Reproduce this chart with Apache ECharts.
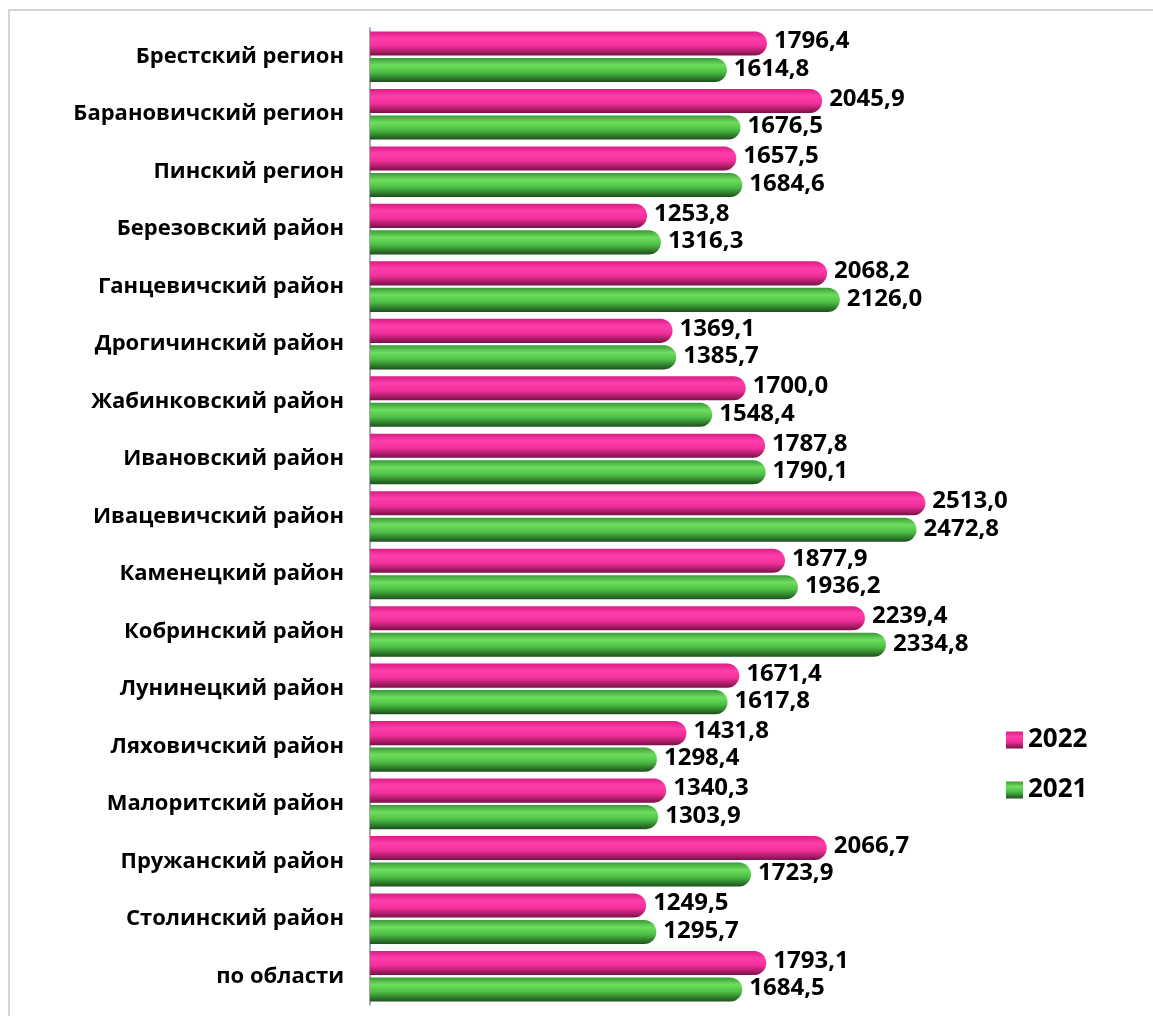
<!DOCTYPE html>
<html>
<head>
<meta charset="utf-8">
<script src="https://cdn.jsdelivr.net/npm/echarts@6/dist/echarts.min.js"></script>
<style>
  html, body { margin: 0; padding: 0; background: #fff; }
  #chart { width: 1153px; height: 1016px; }
</style>
</head>
<body>
<div id="chart"></div>
<script>
// категории сверху вниз
var categories = [
    "Брестский регион", "Барановичский регион", "Пинский регион",
    "Березовский район", "Ганцевичский район", "Дрогичинский район",
    "Жабинковский район", "Ивановский район", "Ивацевичский район",
    "Каменецкий район", "Кобринский район", "Лунинецкий район",
    "Ляховичский район", "Малоритский район", "Пружанский район",
    "Столинский район", "по области"
];
var values2022 = [1796.4, 2045.9, 1657.5, 1253.8, 2068.2, 1369.1, 1700.0, 1787.8,
    2513.0, 1877.9, 2239.4, 1671.4, 1431.8, 1340.3, 2066.7, 1249.5, 1793.1];
var values2021 = [1614.8, 1676.5, 1684.6, 1316.3, 2126.0, 1385.7, 1548.4, 1790.1,
    2472.8, 1936.2, 2334.8, 1617.8, 1298.4, 1303.9, 1723.9, 1295.7, 1684.5];

var FONT = "Open Sans";

/**
 * вертикальный градиент "цилиндр"
 */
var tube = function(top, light, mid, dark){
    return new echarts.graphic.LinearGradient(0, 0, 0, 1, [
        {offset: 0, color: top},
        {offset: 0.3, color: light},
        {offset: 0.6, color: mid},
        {offset: 1, color: dark}
    ]);
};

var numFormat = function(p){
    return p.value.toFixed(1).replace(".", ",");
};

var makeLabel = function(dy){
    return {
        show: true,
        position: "right",
        distance: 7,
        offset: [0, dy],
        fontFamily: FONT,
        fontWeight: "bold",
        fontSize: 24,
        color: "#000",
        formatter: numFormat
    };
};

var chart = echarts.init(document.getElementById("chart"));
chart.setOption({
    animation: false,
    backgroundColor: "#fff",
    graphic: [{
        type: "rect",
        shape: {x: 9, y: 10, width: 1170, height: 1030},
        style: {fill: "none", stroke: "#c8c8c8", lineWidth: 1.5},
        silent: true
    }],
    legend: {
        orient: "vertical",
        left: 1001,
        top: 722,
        itemWidth: 17,
        itemHeight: 17,
        itemGap: 24,
        icon: "rect",
        textStyle: {fontFamily: FONT, fontWeight: "bold", fontSize: 26, color: "#000"},
        data: ["2022", "2021"]
    },
    grid: {left: 370, top: 28, width: 663, height: 977, containLabel: false},
    xAxis: {
        type: "value",
        min: 0,
        max: 3000,
        show: false
    },
    yAxis: {
        type: "category",
        inverse: true,
        data: categories,
        axisLine: {lineStyle: {color: "#8c8c8c", width: 1.5}},
        axisTick: {length: 7, lineStyle: {color: "#8c8c8c", width: 1.5}},
        axisLabel: {
            margin: 26,
            fontFamily: FONT,
            fontWeight: "bold",
            fontSize: 22,
            color: "#000"
        }
    },
    series: [{
        name: "2022",
        type: "bar",
        data: values2022,
        barCategoryGap: "12%",
        barGap: "10%",
        itemStyle: {
            color: tube("#d91e84", "#ff3eab", "#f2309c", "#7a1046"),
            borderRadius: [0, 13, 13, 0]
        },
        label: makeLabel(-2)
    }, {
        name: "2021",
        type: "bar",
        data: values2021,
        barCategoryGap: "12%",
        barGap: "10%",
        itemStyle: {
            color: tube("#3a9a38", "#6fde5e", "#4cbf45", "#1c4f1b"),
            borderRadius: [0, 13, 13, 0]
        },
        label: makeLabel(-1)
    }]
});
</script>
</body>
</html>
